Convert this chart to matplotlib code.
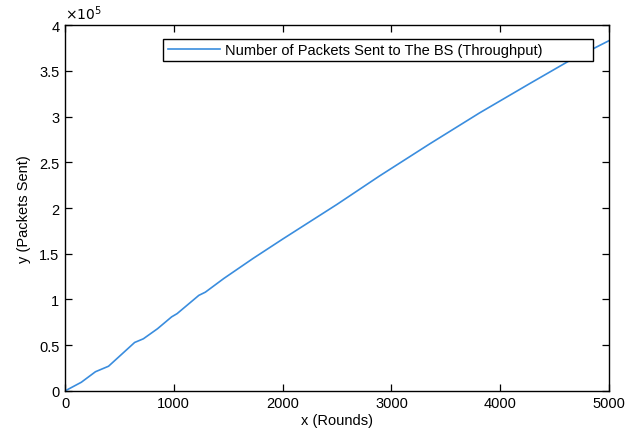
import matplotlib
matplotlib.use("Agg")
import matplotlib.pyplot as plt
from matplotlib.patches import Rectangle
from matplotlib.ticker import FuncFormatter

# packets delivered to the base station vs. round
rounds = [0, 150, 280, 400, 520, 640, 720, 850, 980, 1030, 1230, 1290,
          1460, 1730, 2000, 2250, 2500, 2890, 3350, 3810, 4270, 4620, 5000]
packets = [0, 0.095e5, 0.21e5, 0.27e5, 0.40e5, 0.53e5, 0.57e5, 0.68e5,
           0.81e5, 0.845e5, 1.045e5, 1.08e5, 1.23e5, 1.45e5, 1.66e5,
           1.85e5, 2.04e5, 2.35e5, 2.70e5, 3.04e5, 3.36e5, 3.60e5, 3.83e5]
xticks = [0, 1000, 2000, 3000, 4000, 5000]
yticks = [0, 0.5e5, 1e5, 1.5e5, 2e5, 2.5e5, 3e5, 3.5e5, 4e5]
label = "Number of Packets Sent to The BS (Throughput)"

plt.rcParams["font.family"] = ["Liberation Sans", "DejaVu Sans"]

fig = plt.figure(figsize=(6.25, 4.35), dpi=100)
ax = fig.add_axes([0.104, 0.099, 0.8705, 0.841])
ax.plot(rounds, packets, color="#3A8DDE", lw=1.2, label=label)

ax.set_xlim(0, 5000)
ax.set_ylim(0, 4e5)
ax.set_xticks(xticks)
ax.set_yticks(yticks)
ax.yaxis.set_major_formatter(FuncFormatter(lambda v, p: f"{v / 1e5:g}"))
ax.tick_params(direction="in", top=True, right=True, length=5,
               width=0.9, labelsize=10.5, colors="black", pad=4)
for s in ax.spines.values():
    s.set_linewidth(1.0)
ax.text(0.0, 1.008, r"$\times 10^5$", transform=ax.transAxes,
        fontsize=10, ha="left", va="bottom")

ax.set_xlabel("x (Rounds)", fontsize=10.5, labelpad=2)
ax.set_ylabel("y (Packets Sent)", fontsize=10.5, labelpad=6)

# MATLAB-style legend box: wide, with extra room after the text
ax.add_patch(Rectangle((0.18, 0.902), 0.791, 0.06, transform=ax.transAxes,
                       fc="white", ec="black", lw=1.0, zorder=4))
leg = ax.legend(loc="center left", bbox_to_anchor=(0.189, 0.932),
                fontsize=10.5, handlelength=3.55, frameon=False,
                borderpad=0, handletextpad=0.35, borderaxespad=0)
leg.set_zorder(5)

fig.savefig("out.png", dpi=100)
